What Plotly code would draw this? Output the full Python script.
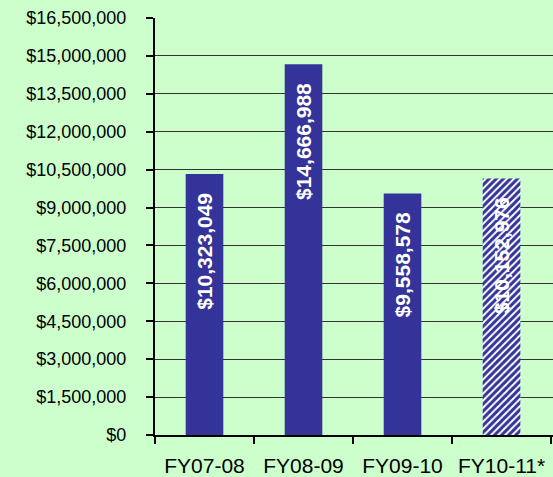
import plotly.graph_objects as go

# Données
annees = ["FY07-08", "FY08-09", "FY09-10", "FY10-11*"]
montants = [10323049, 14666988, 9558578, 10152976]
projete = [False, False, False, True]

couleur_barre = "#333399"
fond = "#CCFFCC"
police = "Liberation Sans"

# petit espace avant le haut de la barre (comme Excel)
pad = "\u00a0\u00a0\u2009"
etiquettes = ["$" + format(v, ",") + pad for v in montants]

fig = go.Figure()
fig.add_trace(go.Bar(
    x=annees,
    y=montants,
    width=0.38,
    text=etiquettes,
    textposition="inside",
    insidetextanchor="end",
    textangle=-90,
    textfont=dict(family=police, size=21, color="white", weight="bold"),
    marker=dict(
        color=couleur_barre,
        line=dict(width=0),
        pattern=dict(
            shape=["/" if p else "" for p in projete],
            fgcolor=couleur_barre,
            fgopacity=1,
            bgcolor="white",
            size=5,
            solidity=0.6,
        ),
    ),
    hoverinfo="x+y",
))

fig.update_layout(
    width=553,
    height=477,
    margin=dict(l=155, r=0, t=18, b=42),
    paper_bgcolor=fond,
    plot_bgcolor=fond,
    showlegend=False,
    font=dict(family=police, color="black"),
    xaxis=dict(
        type="category",
        range=[-0.5, 3.52],
        tickson="boundaries",
        ticks="outside",
        ticklen=7,
        tickwidth=2,
        tickcolor="black",
        showline=True,
        linecolor="black",
        linewidth=2,
        showgrid=False,
        tickfont=dict(size=21),
        ticklabelstandoff=11,
    ),
    yaxis=dict(
        range=[0, 16500000],
        dtick=1500000,
        tickprefix="$",
        tickformat=",d",
        ticks="outside",
        ticklen=7,
        tickwidth=2,
        tickcolor="black",
        showline=True,
        linecolor="black",
        linewidth=2,
        showgrid=True,
        gridcolor="#333333",
        gridwidth=1,
        zeroline=False,
        tickfont=dict(size=18),
        ticklabelstandoff=16,
    ),
)

# pas de marge autour du graphique dans la page
fig.write_html("out.html", config={"displayModeBar": False},
               post_script="document.body.style.margin='0';")
